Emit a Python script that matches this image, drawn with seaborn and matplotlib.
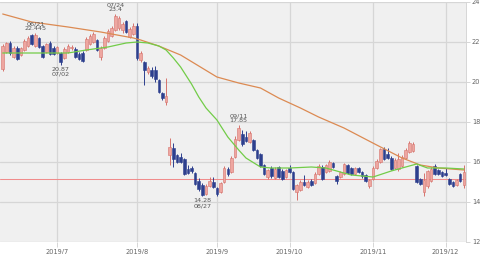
import matplotlib
matplotlib.use("Agg")
import matplotlib.pyplot as plt
import seaborn as sns
import numpy as np
import pandas as pd

# ---- data (trading-day index 0 = 2019-06-10) ----
opens = [20.65, 21.5, 21.95, 21.25, 21.7, 21.35, 21.6, 21.8, 22.35, 21.8,
         22.2, 21.8, 21.5, 21.95, 21.7, 21.45, 21.45, 21.2, 21.5, 21.7,
         21.65, 21.4, 21.45, 21.6, 21.9, 22.0, 22.1, 21.25, 21.7, 22.05,
         22.3, 22.6, 22.7, 22.6, 23.05, 22.25, 22.4, 22.8, 21.1, 21.0,
         20.5, 20.6, 20.6, 20.1, 19.45, 19.0, 16.35, 16.7, 16.35, 16.25,
         16.15, 15.65, 15.7, 15.45, 15.05, 14.85, 14.4, 14.8, 15.0, 14.7,
         14.5, 15.0, 15.65, 15.5, 16.25, 17.1, 17.4, 17.25, 17.0, 17.1,
         16.6, 16.4, 15.85, 15.25, 15.7, 15.2, 15.75, 15.55, 15.25, 15.7,
         15.5, 14.5, 14.6, 15.0, 14.75, 15.05, 14.95, 15.4, 15.75, 15.5,
         15.55, 15.95, 15.3, 15.25, 15.4, 15.85, 15.7, 15.4, 15.7, 15.5,
         15.35, 14.8, 15.15, 15.7, 16.0, 16.65, 16.4, 16.2, 15.7, 15.65,
         15.8, 16.2, 16.5, 16.55, 15.8, 15.15, 14.5, 14.8, 15.05, 15.8,
         15.6, 15.5, 15.45, 15.15, 15.0, 14.85, 15.4, 14.85]
highs = [21.9, 22.0, 22.05, 21.8, 21.8, 21.75, 22.15, 22.3, 22.4, 22.445,
         22.25, 21.85, 21.95, 22.05, 21.8, 21.8, 21.5, 21.75, 21.9, 21.85,
         21.75, 21.5, 21.55, 22.25, 22.4, 22.5, 22.15, 21.8, 22.3, 22.65,
         22.8, 23.4, 23.3, 23.0, 23.1, 22.75, 22.95, 22.95, 21.55, 21.05,
         20.8, 20.75, 20.8, 20.15, 19.5, 20.2, 17.2, 16.95, 16.4, 16.45,
         16.2, 15.85, 15.8, 15.5, 15.2, 14.95, 14.9, 15.25, 15.25, 14.75,
         15.0, 15.8, 15.75, 16.3, 17.3, 17.85, 17.6, 17.55, 17.55, 17.15,
         16.65, 16.45, 15.9, 15.65, 15.8, 15.75, 15.8, 15.65, 15.65, 15.85,
         15.55, 14.9, 15.1, 15.35, 15.1, 15.15, 15.5, 15.9, 15.85, 15.9,
         16.1, 16.0, 15.35, 15.55, 15.95, 15.9, 15.75, 15.75, 15.75, 15.55,
         15.4, 15.15, 15.8, 16.15, 16.7, 16.75, 16.7, 16.3, 16.2, 16.45,
         16.35, 16.7, 17.05, 17.0, 15.85, 15.2, 15.45, 15.6, 15.75, 15.9,
         15.65, 15.55, 15.7, 15.2, 15.05, 15.15, 15.45, 15.85]
lows = [20.55, 21.45, 21.35, 21.2, 21.1, 21.3, 21.55, 21.75, 21.85, 21.75,
        21.7, 21.2, 21.45, 21.35, 21.35, 21.4, 20.87, 21.15, 21.45, 21.6,
        21.2, 21.1, 21.0, 21.55, 21.85, 21.95, 21.55, 21.1, 21.65, 22.0,
        22.25, 22.55, 22.6, 22.45, 22.45, 22.2, 22.35, 21.1, 21.0, 19.85,
        20.4, 20.2, 20.0, 19.45, 19.1, 18.85, 15.85, 15.75, 15.95, 15.95,
        15.35, 15.4, 15.45, 14.85, 14.55, 14.28, 14.35, 14.75, 14.7, 14.3,
        14.45, 14.95, 15.3, 15.45, 16.2, 17.05, 16.8, 17.0, 16.95, 16.55,
        16.15, 15.75, 15.35, 15.15, 15.2, 15.15, 15.2, 15.1, 15.2, 15.45,
        14.6, 14.1, 14.55, 14.8, 14.7, 14.8, 14.9, 15.35, 15.1, 15.45,
        15.5, 15.7, 14.9, 15.2, 15.35, 15.4, 15.35, 15.35, 15.45, 15.2,
        15.0, 14.7, 15.1, 15.65, 15.95, 16.1, 16.15, 15.6, 15.65, 15.55,
        15.75, 16.15, 16.45, 16.5, 14.95, 14.85, 14.3, 14.7, 15.0, 15.35,
        15.35, 15.25, 15.3, 14.85, 14.75, 14.8, 15.0, 14.7]
closes = [21.8, 21.95, 21.45, 21.7, 21.15, 21.7, 22.05, 22.2, 21.9, 22.35,
          21.75, 21.25, 21.9, 21.4, 21.4, 21.75, 21.0, 21.65, 21.8, 21.75,
          21.25, 21.15, 21.05, 22.15, 22.3, 22.4, 21.6, 21.7, 22.2, 22.55,
          22.7, 23.3, 23.2, 22.9, 22.5, 22.65, 22.8, 21.2, 21.45, 20.6,
          20.7, 20.3, 20.15, 19.5, 19.2, 19.3, 16.75, 16.15, 16.0, 16.0,
          15.4, 15.45, 15.55, 14.9, 14.65, 14.35, 14.8, 15.05, 14.75, 14.4,
          14.95, 15.7, 15.4, 16.2, 17.15, 17.7, 16.9, 17.05, 17.45, 16.6,
          16.2, 15.8, 15.4, 15.6, 15.3, 15.65, 15.25, 15.15, 15.6, 15.5,
          14.65, 14.85, 15.0, 14.85, 15.0, 14.85, 15.4, 15.8, 15.15, 15.85,
          16.0, 15.75, 15.05, 15.5, 15.9, 15.45, 15.4, 15.7, 15.5, 15.3,
          15.05, 15.1, 15.7, 16.05, 16.65, 16.15, 16.2, 15.65, 16.1, 16.15,
          16.25, 16.6, 16.95, 16.9, 15.0, 14.9, 15.1, 15.55, 15.65, 15.4,
          15.4, 15.3, 15.35, 14.9, 14.8, 15.1, 15.05, 15.5]

# long moving average (orange), read at sample days
ma_long_idx = [0, 8, 18, 27, 36, 38, 43, 49, 54, 59, 65, 71, 76, 82, 87, 94, 103, 110, 115, 120, 127]
ma_long = [23.4, 23.0, 22.75, 22.5, 22.2, 22.1, 21.8, 21.35, 20.8, 20.25, 19.95, 19.7,
           19.2, 18.7, 18.25, 17.7, 16.85, 16.2, 15.85, 15.7, 15.6]

# short moving average (green), read at sample days
ma_short_idx = [0, 5, 10, 18, 23, 29, 34, 37, 40, 43, 45, 47, 49, 52, 54, 56, 59, 62, 65,
                67, 71, 74, 79, 85, 89, 94, 96, 102, 107, 114, 117, 122, 127]
ma_short = [21.45, 21.45, 21.45, 21.45, 21.6, 21.75, 21.95, 22.0, 21.95, 21.8, 21.6, 21.2,
            20.75, 19.9, 19.25, 18.7, 18.1, 17.25, 16.6, 16.2, 15.75, 15.7, 15.7, 15.75,
            15.7, 15.45, 15.35, 15.25, 15.55, 15.9, 15.7, 15.7, 15.65]

ref_level = 15.15

month_idx = [15, 37, 59, 79, 102, 122]
month_labels = ["2019/7", "2019/8", "2019/9", "2019/10", "2019/11", "2019/12"]

y_ticks = [12, 14, 16, 18, 20, 22, 24]

hi_notes = [(9, "06/21\n22.445", 22.445), (31, "07/24\n23.4", 23.4), (65, "09/11\n17.85", 17.85)]
lo_notes = [(16, "20.87\n07/02", 20.87), (55, "14.28\n08/27", 14.28)]

# ---- drawing ----
sns.set_theme(style="white")
plt.rcParams["font.family"] = ["DejaVu Sans"]

df = pd.DataFrame({"o": opens, "h": highs, "l": lows, "c": closes})
df["i"] = np.arange(len(df))
df["up"] = df["c"] >= df["o"]

fig = plt.figure(figsize=(4.8, 2.54), dpi=100)
ax = fig.add_axes([0, 12 / 254, 466 / 480, 240 / 254])
ax.set_facecolor("#f0f0f0")

ax.set_xlim(-0.744, 127.6)
ax.set_ylim(12, 24)

grid_c = "#d6d6d6"
for m in month_idx:
    ax.axvline(m, color=grid_c, lw=0.9, zorder=0)
for yv in y_ticks:
    ax.axhline(yv, color=grid_c, lw=0.9, zorder=0)

ax.axhline(ref_level, color="#f08c8c", lw=0.75, zorder=1)

up_face, up_edge = "#eea6a0", "#d6736c"
dn_face = "#2d3f8e"

up = df[df["up"]]
dn = df[~df["up"]]
ax.vlines(up["i"], up["l"], up["h"], color=up_edge, lw=0.7, zorder=2)
ax.vlines(dn["i"], dn["l"], dn["h"], color=dn_face, lw=0.7, zorder=2)
w = 0.72
ax.bar(up["i"], (up["c"] - up["o"]).clip(lower=0.03), bottom=up["o"], width=w,
       color=up_face, edgecolor=up_edge, linewidth=0.4, zorder=3)
ax.bar(dn["i"], (dn["o"] - dn["c"]).clip(lower=0.03), bottom=dn["c"], width=w,
       color=dn_face, edgecolor=dn_face, linewidth=0.4, zorder=3)

sns.lineplot(x=ma_long_idx, y=ma_long, ax=ax, color="#dc8a52", lw=0.9, zorder=4)
sns.lineplot(x=ma_short_idx, y=ma_short, ax=ax, color="#72cc48", lw=0.9, zorder=4)

for i, txt, v in hi_notes:
    ax.annotate(txt, (i, v), xytext=(0, 1.5), textcoords="offset points",
                ha="center", va="bottom", fontsize=4.6, color="#555555",
                linespacing=0.95, zorder=5)
for i, txt, v in lo_notes:
    ax.annotate(txt, (i, v), xytext=(0, -1.5), textcoords="offset points",
                ha="center", va="top", fontsize=4.6, color="#555555",
                linespacing=0.95, zorder=5)

ax.set_xticks(month_idx)
ax.set_xticklabels(month_labels)
ax.set_yticks(y_ticks)
ax.set_yticklabels([str(v) for v in y_ticks])
ax.tick_params(axis="x", bottom=True, length=3.5, width=0.7, color=grid_c,
               labelsize=4.8, labelcolor="#666666", pad=1.2)
ax.tick_params(axis="y", left=False, right=True, labelleft=False, labelright=True,
               length=3, width=0.7, color=grid_c, labelsize=4.8,
               labelcolor="#666666", pad=1.2)
for s in ["top", "left", "bottom"]:
    ax.spines[s].set_visible(False)
ax.spines["right"].set_color(grid_c)
ax.spines["right"].set_linewidth(0.7)
ax.set_xlabel("")
ax.set_ylabel("")
if ax.get_legend() is not None:
    ax.get_legend().remove()

fig.savefig("out.png", dpi=100, facecolor="white")
